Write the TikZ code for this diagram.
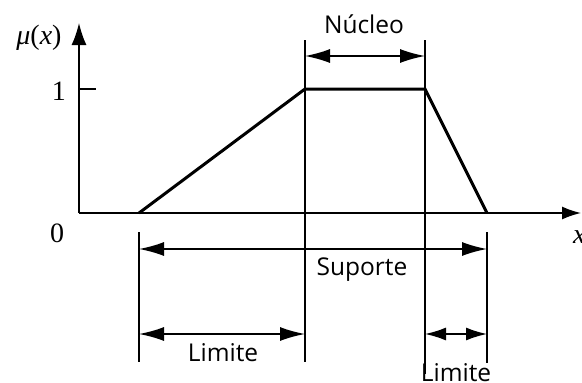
\documentclass[tikz,border=0pt]{standalone}
\usepackage{fontspec}
\setmainfont{Liberation Serif}
\newfontfamily\labfont{Open Sans}
\usetikzlibrary{arrows.meta}
\begin{document}
\begin{tikzpicture}[x=1pt,y=-1pt,
  axis/.style={line width=1.5pt,-{Latex[length=22pt,width=15pt]}},
  xaxis/.style={line width=1.5pt,-{Latex[length=19pt,width=13pt]}},
  trap/.style={line width=3pt,line join=miter},
  guide/.style={line width=1.4pt},
  dim/.style={line width=1.5pt,{Latex[length=25pt,width=14pt]}-{Latex[length=25pt,width=14pt]}},
  dimsmall/.style={line width=1.5pt,{Latex[length=21pt,width=13pt]}-{Latex[length=21pt,width=13pt]}},
  lab/.style={font=\labfont\fontsize{24.5}{28}\selectfont,inner sep=0pt},
  num/.style={font=\fontsize{28}{32}\selectfont,inner sep=0pt}]
\useasboundingbox (0,0) rectangle (582,383);
\coordinate (O) at (79,213);
\coordinate (Ytop) at (79,23);
\coordinate (Xend) at (581,213);
\coordinate (A) at (139,213);
\coordinate (B) at (305,89);
\coordinate (C) at (425,89);
\coordinate (D) at (487,213);
\coordinate (T1) at (79,89);
\coordinate (T2) at (96,89);
% axes
\draw[axis] (O) -- (Ytop);
\draw[xaxis] (O) -- (Xend);
\draw[guide] (T1) -- (T2);
% guide lines
\coordinate (Ga1) at (139,232); \coordinate (Ga2) at (139,362);
\coordinate (Gb1) at (305,40);  \coordinate (Gb2) at (305,362);
\coordinate (Gc1) at (425,40);  \coordinate (Gc2) at (425,374);
\coordinate (Gd1) at (487,232); \coordinate (Gd2) at (487,363);
\draw[guide] (Ga1) -- (Ga2);
\draw[guide] (Gb1) -- (Gb2);
\draw[guide] (Gc1) -- (Gc2);
\draw[guide] (Gd1) -- (Gd2);
% trapezoid
\draw[trap] (A) -- (B) -- (C) -- (D);
% dimension arrows
\coordinate (N1) at (305,56); \coordinate (N2) at (425,56);
\coordinate (S1) at (139,249); \coordinate (S2) at (487,249);
\coordinate (L1) at (139,334); \coordinate (L2) at (305,334);
\coordinate (R1) at (425,334); \coordinate (R2) at (487,334);
\draw[dim] (N1) -- (N2);
\draw[dim] (S1) -- (S2);
\draw[dim] (L1) -- (L2);
\draw[dimsmall] (R1) -- (R2);
% labels
\node[num] (mu) at (39,38) {\textit{μ}(\textit{x})};
\node[num] (one) at (59,91) {1};
\node[num] (zero) at (57,233) {0};
\node[num,anchor=west] (xl) at (573,237) {\textit{x}};
\node[lab] (nuc) at (364,24) {Núcleo};
\node[lab] (sup) at (362,270) {Suporte};
\node[lab] (lim1) at (223,353) {Limite};
\node[lab] (lim2) at (456,373) {Limite};
\end{tikzpicture}
\end{document}
